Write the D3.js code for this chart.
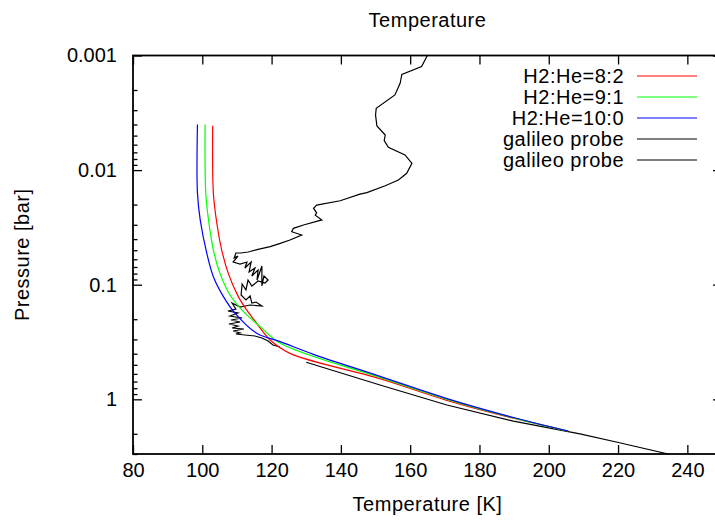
<!DOCTYPE html>
<html>
<head>
<meta charset="utf-8">
<script src="https://cdn.jsdelivr.net/npm/d3@7"></script>
<style>
  body { margin: 0; background: #fff; }
  text { font-family: "Liberation Sans", Arial, Helvetica, sans-serif; fill: #000; }
  .lbl { letter-spacing: 0.5px; }
</style>
</head>
<body>
<svg id="chart" width="715" height="520"></svg>
<script>
// axis ticks
const xTicks = [80, 100, 120, 140, 160, 180, 200, 220, 240];
const yTicks = [0.001, 0.01, 0.1, 1];
const yTickLabels = ["0.001", "0.01", "0.1", "1"];

// legend
const seriesNames = ["H2:He=8:2", "H2:He=9:1", "H2:He=10:0", "galileo probe", "galileo probe"];
const seriesColors = ["#ff0000", "#00ff00", "#0000ff", "#000000", "#000000"];

// model profiles, [temperature K, pressure bar]
const h2he82 = [[103.0,0.0041],[103.2,0.0159],[104.2,0.0291],[105.6,0.0498],[107.5,0.0796],[110.4,0.127],
  [112.8,0.166],[115.7,0.217],[119.6,0.304],[125.3,0.397],[151.3,0.66],[170.6,1.02],[189.8,1.46],[205.6,1.89]];
const h2he91 = [[100.8,0.0040],[101.0,0.0159],[101.8,0.0272],[103.2,0.0498],[105.1,0.0796],[108.0,0.123],
  [111.9,0.172],[116.7,0.232],[122.5,0.324],[151.3,0.645],[170.6,1.0],[189.8,1.45],[205.6,1.89]];
const h2he100 = [[98.6,0.0040],[98.6,0.0158],[99.4,0.0272],[101.3,0.0532],[103.2,0.0851],[106.1,0.127],
  [109.5,0.178],[115.7,0.265],[122.5,0.314],[132.1,0.405],[151.3,0.63],[170.6,0.985],[189.8,1.44],[205.6,1.89]];

// galileo probe, upper atmosphere
const probeUpper = [[165.1,0.00098],[163.3,0.00125],[157.6,0.00146],[157.1,0.00175],[155.6,0.00221],[150.2,0.00289],
  [150.0,0.00330],[150.4,0.00412],[152.8,0.00494],[152.5,0.00553],[153.7,0.00632],[158.5,0.00738],[160.5,0.00873],
  [159.0,0.01067],[156.6,0.0122],[152.8,0.0137],[147.5,0.0157],[145.5,0.0162],[139.8,0.0185],[133.0,0.0202],
  [132.1,0.0215],[133.0,0.0236],[132.6,0.0247],[134.5,0.0272],[129.2,0.0301],[126.3,0.0322],[125.8,0.0345],
  [128.7,0.0368],[125.3,0.0407],[122.5,0.0436],[119.6,0.0465],[116.7,0.0487],[113.8,0.0513],
  [113.2,0.0518],[111.2,0.0529],[109.7,0.0529],[109.2,0.0585],[110.3,0.0562],[108.9,0.0634],[110.9,0.0660],
  [112.9,0.0634],[112.3,0.0715],[114.1,0.0634],[113.5,0.0775],[115.2,0.0715],[114.3,0.0839],[116.1,0.0744],
  [115.8,0.0910],[117.2,0.0687],[117.2,0.1026],[117.8,0.0839],[119.0,0.0910],[118.1,0.0967],[116.1,0.0928],
  [114.3,0.1026],[113.2,0.0910],[112.6,0.1112],[111.5,0.0986],[111.2,0.1230],[112.6,0.1360],[113.8,0.1255],
  [114.3,0.1445],[115.5,0.1416],[117.2,0.1534],[113.8,0.1504],[110.9,0.1565],[108.6,0.1445],[109.7,0.1629],
  [107.4,0.1696],[110.3,0.1765],[108.0,0.1875],[111.5,0.1952],[108.3,0.2032],[110.9,0.2116],[107.7,0.2203],
  [110.3,0.2293],[108.6,0.2386],[112.0,0.2435],[108.9,0.2535],[110.9,0.2639],[109.7,0.2692],[112.3,0.2747],
  [115.2,0.2802],[117.2,0.2918],[119.0,0.3100],[120.4,0.3359],[122.4,0.3497]];

// galileo probe, deep descent
const probeDeep = [[130.0,0.475],[151.3,0.750],[170.6,1.12],[189.8,1.55],[209.0,2.0],[220.1,2.38],[234.5,3.0],[240.0,3.3]];

const svg = d3.select("#chart");
const plotL = 133, plotR = 722, plotT = 55.5, plotB = 454;

const x = d3.scaleLinear().domain([80, 250]).range([plotL, plotR]);
const y = d3.scaleLog().domain([0.001, 3]).range([plotT, plotB]);

svg.append("rect").attr("width", 715).attr("height", 520).attr("fill", "#fff");

svg.append("defs").append("clipPath").attr("id", "plotclip")
  .append("rect").attr("x", plotL).attr("y", plotT).attr("width", plotR - plotL).attr("height", plotB - plotT);

// axes (ticks point inward, gnuplot style)
const fs = 20;
const xAxis = svg.append("g").attr("transform", `translate(0,${plotB})`)
  .call(d3.axisBottom(x).tickValues(xTicks).tickSize(-9).tickPadding(9));
xAxis.selectAll("text").style("font-size", fs + "px");

svg.append("g").attr("transform", `translate(0,${plotT})`)
  .call(d3.axisTop(x).tickValues(xTicks).tickSize(-9).tickFormat(""));

const yAxis = svg.append("g").attr("transform", `translate(${plotL},0)`)
  .call(d3.axisLeft(y).tickValues(yTicks).tickFormat((d, i) => yTickLabels[i]).tickSize(-9).tickPadding(16));
yAxis.selectAll("text").style("font-size", fs + "px");

svg.append("g").attr("transform", `translate(${plotR},0)`)
  .call(d3.axisRight(y).tickValues(yTicks).tickSize(-9).tickFormat(""));

// minor log ticks
const minors = y.ticks().filter(d => !yTicks.some(t => Math.abs(t - d) < d * 1e-6));
svg.append("g").attr("transform", `translate(${plotL},0)`)
  .call(d3.axisLeft(y).tickValues(minors).tickSize(-4.5).tickFormat(""));
svg.append("g").attr("transform", `translate(${plotR},0)`)
  .call(d3.axisRight(y).tickValues(minors).tickSize(-4.5).tickFormat(""));

svg.selectAll(".domain").remove();
svg.selectAll(".tick line").attr("stroke", "#000").attr("stroke-width", 1.3);

// border
svg.append("rect").attr("x", plotL).attr("y", plotT).attr("width", plotR - plotL).attr("height", plotB - plotT)
  .attr("fill", "none").attr("stroke", "#000").attr("stroke-width", 1.8);

// data
const plot = svg.append("g").attr("clip-path", "url(#plotclip)");
const smooth = d3.line().x(d => x(d[0])).y(d => y(d[1])).curve(d3.curveCatmullRom.alpha(0.5));
const straight = d3.line().x(d => x(d[0])).y(d => y(d[1]));

plot.append("path").attr("d", straight(probeUpper)).attr("fill", "none").attr("stroke", seriesColors[3]).attr("stroke-width", 1.2);
plot.append("path").attr("d", straight(probeDeep)).attr("fill", "none").attr("stroke", seriesColors[4]).attr("stroke-width", 1.2);
[h2he82, h2he91, h2he100].forEach((s, i) => {
  plot.append("path").attr("d", smooth(s)).attr("fill", "none").attr("stroke", seriesColors[i]).attr("stroke-width", 1.2);
});

// legend
const legend = svg.append("g");
seriesNames.forEach((name, i) => {
  const ly = 76 + i * 21;
  legend.append("text").attr("class", "lbl").attr("x", 624).attr("y", ly).attr("dy", "0.35em")
    .attr("text-anchor", "end").style("font-size", fs + "px").text(name);
  legend.append("line").attr("x1", 637).attr("x2", 697).attr("y1", ly).attr("y2", ly)
    .attr("stroke", seriesColors[i]).attr("stroke-width", 1.2);
});

// titles
svg.append("text").attr("class", "lbl").attr("x", (plotL + plotR) / 2).attr("y", 27).attr("text-anchor", "middle")
  .style("font-size", fs + "px").text("Temperature");
svg.append("text").attr("class", "lbl").attr("x", (plotL + plotR) / 2).attr("y", 511).attr("text-anchor", "middle")
  .style("font-size", fs + "px").text("Temperature [K]");
svg.append("text").attr("class", "lbl").attr("transform", `translate(29,${(plotT + plotB) / 2}) rotate(-90)`)
  .attr("text-anchor", "middle").style("font-size", fs + "px").text("Pressure [bar]");
</script>
</body>
</html>
